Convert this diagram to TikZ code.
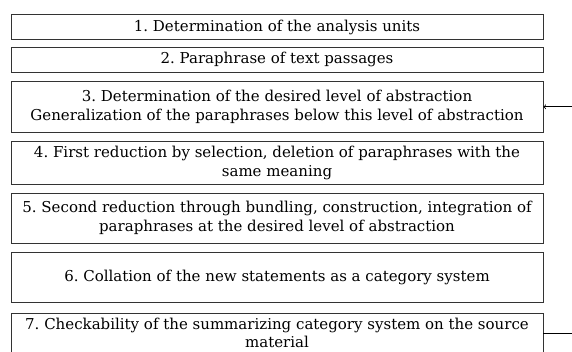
\documentclass[tikz,border=0pt]{standalone}
\usepackage{fontspec}
\setmainfont{DejaVu Serif}
\begin{document}
\frenchspacing
\begin{tikzpicture}[x=1pt,y=-1pt,line width=0.8pt,
  stepbox/.style={draw=black!80,rectangle,minimum width=532pt,inner sep=0pt,align=center,font=\fontsize{15}{19}\selectfont}]
\clip (0,0) rectangle (572,351);
\node[stepbox,minimum height=24.6pt] at (277,27) (a) {1. Determination of the analysis units};
\node[stepbox,minimum height=25pt] at (277,59.8) (b) {2. Paraphrase of text passages};
\node[stepbox,minimum height=50.3pt] at (277,106.8) (c) {3. Determination of the desired level of abstraction\\Generalization of the paraphrases below this level of abstraction};
\node[stepbox,minimum height=42.3pt] at (277,162.8) (d) {4. First reduction by selection, deletion of paraphrases with the\\same meaning};
\node[stepbox,minimum height=50pt] at (277,218.3) (e) {5. Second reduction through bundling, construction, integration of\\paraphrases at the desired level of abstraction};
\node[stepbox,minimum height=50pt] at (277,277.7) (f) {6. Collation of the new statements as a category system};
\node[stepbox,minimum height=39.4pt,font=\fontsize{15}{18}\selectfont] at (277,333) (g) {7. Checkability of the summarizing category system on the source\\material};

\draw[->] (g.east) -- ++(40,0) |- (c.east);

\end{tikzpicture}
\end{document}
